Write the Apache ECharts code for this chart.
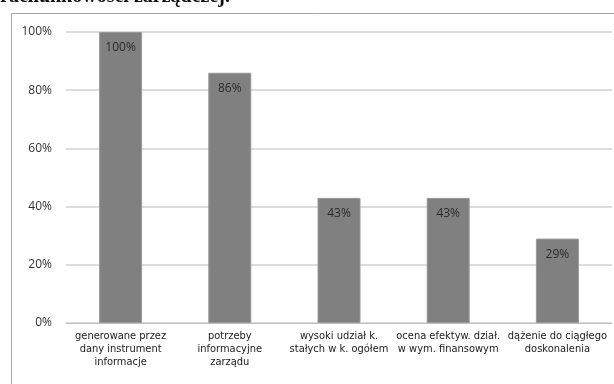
<!DOCTYPE html>
<html>
<head>
<meta charset="utf-8">
<script src="https://cdn.jsdelivr.net/npm/echarts@6/dist/echarts.min.js"></script>
<style>
  html, body { margin: 0; padding: 0; background: #fff; }
  #chart { width: 614px; height: 384px; }
</style>
</head>
<body>
<div id="chart"></div>
<script>
// Categories (x axis labels) and values in percent
const categories = [
    'generowane przez\ndany instrument\ninformacje',
    'potrzeby\ninformacyjne\nzarządu',
    'wysoki udział k.\nstałych w k. ogółem',
    'ocena efektyw. dział.\nw wym. finansowym',
    'dążenie do ciągłego\ndoskonalenia'
];
const values = [100, 86, 43, 43, 29];
const yTicks = [0, 20, 40, 60, 80, 100];

const chart = echarts.init(document.getElementById('chart'));

const options = {
    animation: false,
    graphic: [
        {
            // cut off heading from the page above the chart
            type: 'text',
            left: 0,
            top: -13,
            style: {
                text: 'rachunkowości zarządczej.',
                font: 'bold 20px "Liberation Serif", serif',
                fill: '#111'
            }
        },
        {
            // outer chart border
            type: 'rect',
            shape: { x: 11.5, y: 13.5, width: 620, height: 400 },
            style: { fill: 'none', stroke: '#a6a6a6', lineWidth: 1 }
        }
    ],
    grid: {
        left: 66,
        right: 2,
        top: 32,
        bottom: 61
    },
    xAxis: {
        type: 'category',
        data: categories,
        axisTick: { show: false },
        axisLine: { lineStyle: { color: '#bfbfbf', width: 1 } },
        axisLabel: {
            interval: 0,
            color: '#1a1a1a',
            fontFamily: '"Liberation Sans Narrow", "DejaVu Sans Condensed", sans-serif',
            fontSize: 11,
            lineHeight: 13,
            margin: 7
        }
    },
    yAxis: {
        type: 'value',
        min: 0,
        max: 100,
        interval: 20,
        axisLine: { show: false },
        axisTick: { show: false },
        splitLine: { lineStyle: { color: '#d0d0d0', width: 1.5 } },
        axisLabel: {
            color: '#333',
            fontFamily: '"Open Sans", sans-serif',
            fontSize: 12,
            margin: 14,
            formatter: v => yTicks.includes(v) ? v + '%' : ''
        }
    },
    series: [
        {
            name: 'Udział',
            type: 'bar',
            data: values,
            barWidth: 43,
            itemStyle: {
                color: '#808080',
                borderColor: '#999999',
                borderWidth: 1
            },
            label: {
                show: true,
                position: 'insideTop',
                distance: 10,
                color: '#2a2a2a',
                fontFamily: '"Open Sans", sans-serif',
                fontSize: 12,
                formatter: p => p.value + '%'
            }
        }
    ]
};

chart.setOption(options);
</script>
</body>
</html>
